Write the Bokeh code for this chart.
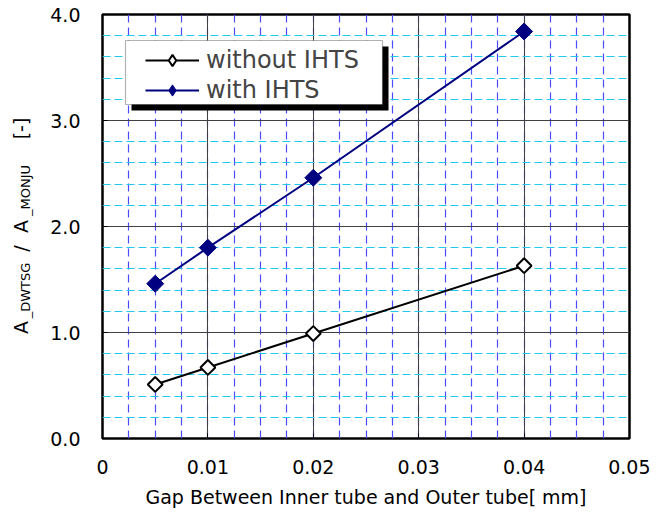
import math
from bokeh.plotting import figure
from bokeh.layouts import row
from bokeh.models import (SingleIntervalTicker, NumeralTickFormatter, Legend, LegendItem,
                          BoxAnnotation, Range1d, ColumnDataSource)
from bokeh.core.properties import value
from bokeh.embed import file_html
from bokeh.resources import INLINE

# ---- data ----
gap = [0.005, 0.01, 0.02, 0.04]
without_ihts = [0.51, 0.67, 0.99, 1.63]
with_ihts = [1.46, 1.80, 2.46, 3.84]
series_names = ["without IHTS", "with IHTS"]
x_label = "Gap Between Inner tube and Outer tube[ mm]"
# y-axis label pieces (main text and subscripts)
ylab_main = ["A", "/", "A", "[-]"]
ylab_sub = ["_DWTSG", "_MONJU"]

FONT = "DejaVu Sans"
H = 510
TOP, BOTTOM = 14, 72

# ---- narrow panel carrying the y-axis label ----
q = figure(width=40, height=H, output_backend="svg", toolbar_location=None,
           x_range=Range1d(0, 40), y_range=Range1d(0, 4.0),
           x_axis_type=None, y_axis_type=None,
           min_border_left=0, min_border_right=0, min_border_top=TOP, min_border_bottom=BOTTOM)
q.outline_line_color = None
q.grid.visible = False
q.background_fill_color = "white"
q.border_fill_color = "white"
main_src = ColumnDataSource(dict(x=[20, 20, 20, 20], y=[1.047, 1.793, 2.0, 2.925], t=ylab_main))
sub_src = ColumnDataSource(dict(x=[25, 25], y=[1.396, 2.340], t=ylab_sub))
q.text("x", "y", text="t", source=main_src, angle=math.pi / 2, text_align="center",
       text_baseline="alphabetic", text_font=value(FONT), text_font_size=value("19px"),
       text_color="black")
q.text("x", "y", text="t", source=sub_src, angle=math.pi / 2, text_align="center",
       text_baseline="alphabetic", text_font=value(FONT), text_font_size=value("13px"),
       text_color="black")

# ---- main chart ----
p = figure(width=610, height=H, output_backend="svg", toolbar_location=None,
           x_range=Range1d(0, 0.05), y_range=Range1d(0, 4.0),
           min_border_left=62, min_border_right=21, min_border_top=TOP, min_border_bottom=BOTTOM)
p.background_fill_color = "white"
p.border_fill_color = "white"
p.outline_line_color = "black"
p.outline_line_width = 2.5

p.xaxis.ticker = SingleIntervalTicker(interval=0.01, num_minor_ticks=4)
p.yaxis.ticker = SingleIntervalTicker(interval=1.0, num_minor_ticks=5)
p.xaxis.formatter = NumeralTickFormatter(format="0.[00]")
p.yaxis.formatter = NumeralTickFormatter(format="0.0")
for ax in (p.xaxis, p.yaxis):
    ax.axis_line_color = None
    ax.major_tick_in = 5
    ax.major_tick_out = 0
    ax.major_tick_line_color = "black"
    ax.minor_tick_in = 0
    ax.minor_tick_out = 0
    ax.major_label_text_font = FONT
    ax.major_label_text_font_size = "19px"
    ax.major_label_text_color = "black"
p.yaxis.major_label_standoff = 22
p.xaxis.major_label_standoff = 21
p.xaxis.axis_label = x_label
p.xaxis.axis_label_text_font = FONT
p.xaxis.axis_label_text_font_size = "19px"
p.xaxis.axis_label_text_font_style = "normal"
p.xaxis.axis_label_text_color = "black"
p.xaxis.axis_label_standoff = 9

p.xgrid.grid_line_color = "#404040"
p.ygrid.grid_line_color = "#404040"
p.xgrid.grid_line_width = 1
p.ygrid.grid_line_width = 1
p.xgrid.minor_grid_line_color = "#4a4aff"
p.xgrid.minor_grid_line_dash = "8 5"
p.xgrid.minor_grid_line_width = 1.2
p.ygrid.minor_grid_line_color = "#22c8f0"
p.ygrid.minor_grid_line_dash = "8 4"
p.ygrid.minor_grid_line_width = 1.2

l1 = p.line(gap, without_ihts, line_color="black", line_width=2)
p.scatter(gap, without_ihts, marker="square", size=10.5, angle=math.pi / 4,
          fill_color="white", line_color="black", line_width=2)
l2 = p.line(gap, with_ihts, line_color="#000080", line_width=2)
p.scatter(gap, with_ihts, marker="square", size=12, angle=math.pi / 4,
          fill_color="#000080", line_color="#000080", line_width=1)

# legend glyph stand-ins (diamond markers, nothing drawn in the plot area)
nan = float("nan")
d1 = p.scatter([nan], [nan], marker="diamond", size=15, fill_color="white",
               line_color="black", line_width=2)
d2 = p.scatter([nan], [nan], marker="diamond", size=17, fill_color="#000080",
               line_color="#000080", line_width=1)

shadow = BoxAnnotation(left=0.002751, right=0.027135, top=3.6981, bottom=3.0943,
                       fill_color="black", fill_alpha=1, line_color=None, level="annotation")
frame_box = BoxAnnotation(left=0.002182, right=0.026565, top=3.7547, bottom=3.1509,
                          fill_color="white", fill_alpha=1, line_color="black",
                          line_width=1.2, level="annotation")
p.add_layout(shadow)
p.add_layout(frame_box)

legend = Legend(items=[LegendItem(label=series_names[0], renderers=[l1, d1]),
                       LegendItem(label=series_names[1], renderers=[l2, d2])],
                location=(43, 334), padding=2, margin=0, spacing=2,
                glyph_width=54, glyph_height=28, label_height=28, label_standoff=7,
                label_text_font=FONT, label_text_font_size="24px",
                background_fill_alpha=0, border_line_color=None)
p.add_layout(legend)

layout = row(q, p)
open("out.html", "w").write(file_html(layout, INLINE))
